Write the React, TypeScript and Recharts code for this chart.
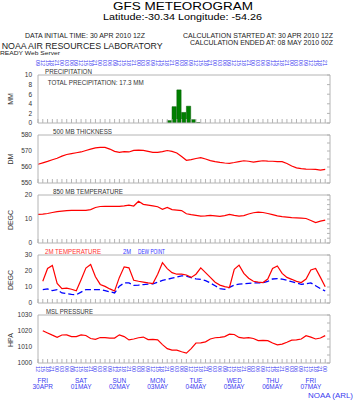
import { ComposedChart, Line, Bar, XAxis, YAxis } from 'recharts';

// 3-hourly steps from 30 APR 2010 12Z to 08 MAY 2010 00Z
const thickness = [
  561.7, 562.6, 563.5, 564.5, 565.5, 566.8, 567.8, 568.4, 568.9, 569.4,
  570.3, 571.2, 572.0, 572.3, 572.3, 571.2, 569.8, 569.2, 569.6, 569.4,
  570.4, 570.5, 570.4, 569.8, 569.2, 569.2, 569.6, 570.3, 569.8, 568.8,
  566.5, 564.2, 564.6, 565.3, 565.8, 565.0, 564.0, 563.4, 562.9, 562.5,
  562.3, 562.8, 563.4, 563.9, 563.6, 563.0, 563.5, 563.9, 563.7, 563.6,
  563.4, 563.3, 562.2, 560.6, 559.5, 559.0, 558.7, 558.6, 558.5, 558.1,
  558.5,
];
const temp850 = [
  11.9, 12.0, 12.3, 12.7, 13.1, 13.3, 13.5, 13.6, 13.6, 13.6,
  13.6, 13.9, 14.8, 15.2, 15.3, 15.3, 15.3, 15.3, 15.5, 15.8,
  15.4, 17.4, 16.1, 15.8, 15.5, 15.1, 14.0, 14.8, 13.9, 13.7,
  13.5, 12.2, 11.8, 11.5, 11.2, 11.3, 11.5, 11.3, 11.1, 11.4,
  11.9, 11.5, 11.2, 11.4, 12.1, 12.6, 12.9, 12.7, 12.3, 11.8,
  11.3, 11.0, 10.8, 10.6, 10.5, 10.4, 10.2, 9.4, 8.5, 9.1,
  9.5,
];
const temp2m = [
  null, 13.6, 21.6, 23.5, 12.2, 9.0, 9.3, 8.6, 7.6, 14.5,
  21.8, 24.1, 16.4, 11.6, 10.4, 8.8, 7.5, 16.0, 22.6, 22.0,
  14.2, 13.6, 13.1, 12.6, 12.2, 18.0, 25.2, 21.5, 19.0, 18.0,
  18.0, 17.5, 16.0, 18.0, 22.0, 19.0, 16.0, 13.0, 11.2, 10.2,
  9.7, 21.0, 23.7, 18.5, 15.5, 13.6, 13.0, 12.8, 15.0, 21.6,
  23.1, 18.5, 16.0, 14.8, 13.5, 12.8, 15.0, 20.6, 21.6, 16.0,
  10.1,
];
const dewPoint = [
  null, 8.3, 8.8, 7.7, 8.3, 6.3, 5.8, 5.4, 5.2, 6.8,
  8.4, 8.4, 8.4, 8.4, 7.8, 7.0, 6.3, 10.5, 12.5, 12.6,
  11.0, 11.2, 11.5, 11.8, 12.0, 13.0, 14.2, 14.8, 15.5, 16.2,
  17.0, 16.8, 15.8, 15.1, 14.8, 14.0, 12.5, 10.8, 9.0, 8.5,
  9.8, 11.2, 11.8, 12.1, 12.3, 12.5, 12.6, 12.6, 13.5, 15.0,
  15.2, 14.9, 14.2, 13.3, 12.5, 11.7, 12.0, 12.6, 10.8, 9.0,
  7.5,
];
const mslp = [
  null, 1020.2, 1018.8, 1017.4, 1016.1, 1017.5, 1017.6, 1016.5, 1016.5, 1017.6,
  1017.2, 1015.3, 1014.8, 1015.9, 1015.9, 1015.6, 1015.6, 1017.6, 1016.5, 1014.4,
  1015.0, 1015.8, 1016.2, 1014.6, 1014.8, 1014.5, 1011.5, 1009.0, 1008.1, 1008.0,
  1007.0, 1006.2, 1009.0, 1012.5, 1012.6, 1013.2, 1015.0, 1015.8, 1016.0, 1016.5,
  1018.0, 1017.8, 1016.0, 1015.5, 1015.9, 1015.3, 1014.0, 1014.2, 1014.0, 1012.5,
  1011.3, 1011.8, 1013.0, 1014.3, 1014.4, 1015.0, 1017.1, 1016.2, 1015.0, 1015.6,
  1017.1,
];
// 3-h precipitation totals (mm), by the step that ends the period
const precipSteps = [28, 29, 30, 31, 32, 33, 34];
const precipMM = [0.5, 3.4, 6.9, 2.2, 3.5, 0.7, 0.1];

const utcHours = ['12', '15', '18', '21', '00', '03', '06', '09'];
const localHours = ['09', '12', '15', '18', '21', '00', '03', '06'];
const dayTicks = [1, 9, 17, 25, 33, 41, 49, 57];
const dayNames = ['FRI', 'SAT', 'SUN', 'MON', 'TUE', 'WED', 'THU', 'FRI'];
const dayDates = ['30APR', '01MAY', '02MAY', '03MAY', '04MAY', '05MAY', '06MAY', '07MAY'];

const steps = thickness.map((_, i) => i);
const rows = steps.map((i) => ({
  t: i,
  thick: thickness[i],
  t850: temp850[i],
  t2m: temp2m[i],
  td: dewPoint[i],
  slp: mslp[i],
}));
const precipRows = precipSteps.map((s, k) => ({ t: s - 0.5, p: precipMM[k] }));

const W = 353;
const X_DOMAIN = [0, 61];
const FRAME = '#b4b4b4';
const FONT = '"Liberation Sans", Arial, sans-serif';
const BLUE_TXT = '#3b3bf0';
const MARGIN = { top: 6, right: 23, bottom: 6, left: 8 };
const LINE = { stroke: FRAME, strokeWidth: 1 };

const blank = () => <g />;

const hourText = (x: number, y: number, label: string, up: boolean) => (
  <text
    x={x}
    y={y}
    transform={`rotate(90 ${x} ${y})`}
    textAnchor={up ? 'end' : 'start'}
    dominantBaseline="central"
    fontSize={5.5}
    fill={BLUE_TXT}
  >
    {label}
  </text>
);

const TopTick = ({ x, y, payload }: any) => hourText(x, y, localHours[payload.value % 8], true);

// hour label at every step, weekday and date under the day ticks
const BottomTick = ({ x, y, payload }: any) => {
  const d = dayTicks.indexOf(payload.value);
  return (
    <g>
      {hourText(x, y, utcHours[payload.value % 8], false)}
      {d >= 0 && (
        <text x={x} y={y} textAnchor="middle" fontSize={6.5} fill={BLUE_TXT}>
          <tspan x={x} dy={17}>{dayNames[d]}</tspan>
          <tspan x={x} dy={5.8}>{dayDates[d]}</tspan>
        </text>
      )}
    </g>
  );
};

// border box: bottom axis with inner ticks, top line, labelled left axis, right axis with inner ticks
const frame = (domain: number[], ticks: number[], sideTicks: number[]) => [
  <XAxis key="xb" xAxisId="b" dataKey="t" type="number" domain={X_DOMAIN} ticks={steps} interval={0}
    mirror height={1} tick={blank} tickSize={4} stroke={FRAME} axisLine={LINE} tickLine={LINE} allowDataOverflow />,
  <XAxis key="xt" xAxisId="top" dataKey="t" orientation="top" type="number" domain={X_DOMAIN} mirror height={1}
    tick={blank} tickLine={false} ticks={[0, 61]} stroke={FRAME} axisLine={LINE} allowDataOverflow />,
  <YAxis key="yl" yAxisId="l" type="number" domain={domain} ticks={ticks} interval={0} width={30}
    tickLine={false} tickSize={0} tickMargin={6} stroke={FRAME} axisLine={LINE}
    tick={{ fontSize: 6.5, fill: '#333' }} allowDataOverflow />,
  <YAxis key="yr" yAxisId="r" orientation="right" type="number" domain={domain} ticks={sideTicks}
    interval={0} mirror width={1} tick={blank} tickSize={3} stroke={FRAME} axisLine={LINE} tickLine={LINE}
    allowDataOverflow />,
];

const Chart = ({ top, height, data, margin = MARGIN, children }: any) => (
  <div style={{ position: 'absolute', left: 0, top }}>
    <ComposedChart width={W} height={height} data={data} margin={margin}>
      {children}
    </ComposedChart>
  </div>
);

const RED = '#ff0000';
const BLUE = '#0000ff';

export default function App() {
  return (
    <div style={{ position: 'absolute', left: 0, top: 0, width: W, height: 400, background: '#fff', fontFamily: FONT }}>
      {/* precipitation */}
      <Chart top={52} height={77} data={precipRows}>
        <XAxis xAxisId="lt" dataKey="t" orientation="top" type="number" domain={X_DOMAIN} ticks={steps} interval={0}
          height={17} axisLine={false} tickLine={false} tickSize={0} tickMargin={9} allowDataOverflow
          tick={<TopTick />} />
        {frame([0, 10], [0, 2, 4, 6, 8, 10], [0, 2, 4, 6, 8, 10])}
        <Bar xAxisId="b" yAxisId="l" dataKey="p" barSize={4.8} fill="#008000" stroke="#005a00"
          strokeWidth={0.5} isAnimationActive={false} />
      </Chart>

      {/* 500 mb thickness */}
      <Chart top={129} height={60} data={rows}>
        {frame([550, 580], [550, 560, 570, 580], [550, 555, 560, 565, 570, 575, 580])}
        <Line xAxisId="b" yAxisId="l" dataKey="thick" stroke={RED} strokeWidth={1.2} dot={false}
          type="linear" isAnimationActive={false} />
      </Chart>

      {/* 850 mb temperature */}
      <Chart top={189} height={60} data={rows}>
        {frame([0, 20], [0, 10, 20], [0, 2, 4, 6, 8, 10, 12, 14, 16, 18, 20])}
        <Line xAxisId="b" yAxisId="l" dataKey="t850" stroke={RED} strokeWidth={1.2} dot={false}
          type="linear" isAnimationActive={false} />
      </Chart>

      {/* 2m temperature and dew point */}
      <Chart top={249} height={60} data={rows}>
        {frame([0, 30], [0, 10, 20, 30], [0, 5, 10, 15, 20, 25, 30])}
        <Line xAxisId="b" yAxisId="l" dataKey="td" stroke={BLUE} strokeWidth={1.3} strokeDasharray="6 3"
          dot={false} type="linear" isAnimationActive={false} />
        <Line xAxisId="b" yAxisId="l" dataKey="t2m" stroke={RED} strokeWidth={1.2} dot={false}
          type="linear" isAnimationActive={false} />
      </Chart>

      {/* MSL pressure */}
      <Chart top={309} height={90} data={rows} margin={{ ...MARGIN, bottom: 0 }}>
        {frame([1000, 1030], [1000, 1010, 1020, 1030], [1000, 1005, 1010, 1015, 1020, 1025, 1030])}
        <XAxis xAxisId="hrs" dataKey="t" type="number" domain={X_DOMAIN} ticks={steps} interval={0} height={36}
          axisLine={false} tickLine={false} tickSize={0} tickMargin={3} allowDataOverflow
          tick={<BottomTick />} />
        <Line xAxisId="b" yAxisId="l" dataKey="slp" stroke={RED} strokeWidth={1.2} dot={false}
          type="linear" isAnimationActive={false} />
      </Chart>

      {/* titles and labels */}
      <svg width={W} height={400} style={{ position: 'absolute', left: 0, top: 0, pointerEvents: 'none' }}
        fontFamily={FONT}>
        <text x={113} y={10} fontSize={11.5} textLength={140} lengthAdjust="spacingAndGlyphs">GFS METEOROGRAM</text>
        <text x={103} y={19.5} fontSize={9} textLength={159} lengthAdjust="spacingAndGlyphs">Latitude:-30.34 Longitude: -54.26</text>
        <text x={25} y={38.3} fontSize={6.5} fill="#222" textLength={120} lengthAdjust="spacingAndGlyphs">DATA INITIAL TIME: 30 APR 2010 12Z</text>
        <text x={1.7} y={48.5} fontSize={9.5} fill="#222" textLength={161} lengthAdjust="spacingAndGlyphs">NOAA AIR RESOURCES LABORATORY</text>
        <text x={0} y={54.5} fontSize={5.5} fill="#222" textLength={60} lengthAdjust="spacingAndGlyphs">READY Web Server</text>
        <text x={183} y={38.3} fontSize={6.5} fill="#222" textLength={150} lengthAdjust="spacingAndGlyphs">CALCULATION STARTED AT: 30 APR 2010 12Z</text>
        <text x={190} y={44.5} fontSize={6.5} fill="#222" textLength={143} lengthAdjust="spacingAndGlyphs">CALCULATION ENDED AT: 08 MAY 2010 00Z</text>

        <text x={45} y={74} fontSize={6.3} fill="#333" textLength={47} lengthAdjust="spacingAndGlyphs">PRECIPITATION</text>
        <text x={47.7} y={85.3} fontSize={6.3} fill="#333" textLength={96} lengthAdjust="spacingAndGlyphs">TOTAL PRECIPITATION:  17.3 MM</text>
        <text x={53} y={133.5} fontSize={6.3} fill="#333" textLength={59} lengthAdjust="spacingAndGlyphs">500 MB  THICKNESS</text>
        <text x={53} y={193.5} fontSize={6.3} fill="#333" textLength={70} lengthAdjust="spacingAndGlyphs">850 MB  TEMPERATURE</text>
        <text x={45} y={253.5} fontSize={6.3} fill="#ff3030" textLength={56} lengthAdjust="spacingAndGlyphs">2M TEMPERATURE</text>
        <text x={123} y={253.5} fontSize={6.3} fill="#3030ff" textLength={8} lengthAdjust="spacingAndGlyphs">2M</text>
        <text x={138} y={253.5} fontSize={6.3} fill="#3030ff" textLength={27} lengthAdjust="spacingAndGlyphs">DEW POINT</text>
        <text x={46} y={314} fontSize={6.3} fill="#333" textLength={47} lengthAdjust="spacingAndGlyphs">MSL PRESSURE</text>

        {[['MM', 99], ['DM', 159], ['DEGC', 220], ['DEGC', 280], ['HPA', 340]].map(([label, cy]) => (
          <text key={`${label}-${cy}`} x={10} y={cy} transform={`rotate(-90 10 ${cy})`} textAnchor="middle"
            dominantBaseline="central" fontSize={7} fill="#333">{label}</text>
        ))}

        <text x={308} y={398} fontSize={8} fill={BLUE_TXT} textLength={45} lengthAdjust="spacingAndGlyphs">NOAA (ARL)</text>
      </svg>
    </div>
  );
}
